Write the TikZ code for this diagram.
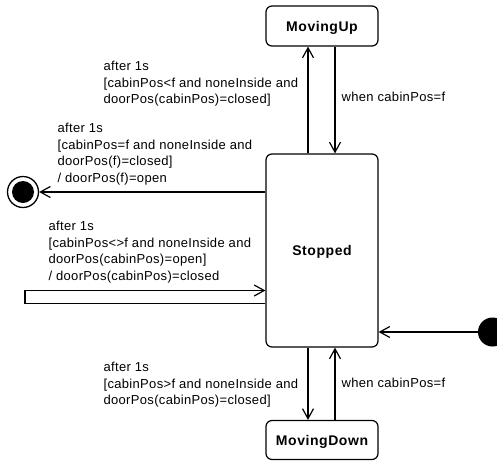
\documentclass[tikz,border=0pt]{standalone}
\usepackage{fontspec}
\setmainfont{Liberation Sans}
\newfontfamily\lblfont[LetterSpace=2.5]{Liberation Sans}
\newfontfamily\statefont[LetterSpace=4]{Liberation Sans}
\usetikzlibrary{arrows.meta}
\begin{document}
\begin{tikzpicture}[x=1pt,y=-1pt,
  line width=1.2pt,
  arr/.style={-{Straight Barb[length=10pt,width=11pt,line width=1.2pt]}},
  state/.style={draw,rounded corners=6pt,inner sep=0pt,text depth=0pt,font=\statefont\fontsize{14}{16}\selectfont\bfseries},
  trig/.style={inner sep=0pt,align=left,anchor=north west,font=\lblfont\fontsize{13}{16.7}\selectfont},
  cond/.style={inner sep=0pt,anchor=west,font=\lblfont\fontsize{13}{16.7}\selectfont}]
\useasboundingbox (0,0) rectangle (497,460);
% states
\node[state,minimum width=112pt,minimum height=40pt] (up) at (322,26) {MovingUp};
\node[state,minimum width=112pt,minimum height=193pt] (stop) at (322,250.5) {Stopped};
\node[state,minimum width=112pt,minimum height=39pt] (down) at (322,440) {MovingDown};
% pseudostates
\fill (492.5,332) circle (14.5pt) coordinate (init);
\node[circle,draw,line width=1.3pt,minimum size=31pt,inner sep=0pt] (fin) at (23,192) {};
\fill (fin.center) circle (11pt);
% helper columns and rows
\coordinate (lx) at (308,0);
\coordinate (rx) at (335,0);
\coordinate (initrow) at (0,332);
\coordinate (finrow) at (0,192);
\coordinate (looptop) at (25,290.5);
\coordinate (loopbot) at (25,303.5);
% transitions
\draw[arr] (stop.north -| lx) -- (up.south -| lx);
\draw[arr] (up.south -| rx) -- (stop.north -| rx);
\draw[arr] (stop.south -| lx) -- (down.north -| lx);
\draw[arr] (down.north -| rx) -- (stop.south -| rx);
\draw[arr] (478,332) -- (stop.east |- initrow);
\draw[arr] (stop.west |- finrow) -- (fin.east);
\draw[arr] (stop.west |- loopbot) -- (loopbot) -- (looptop) -- (stop.west |- looptop);
% labels
\node[trig] (t1) at (103,60.5) {after 1s\\{}[cabinPos<f and noneInside and\\doorPos(cabinPos)=closed]};
\node[trig] (t2) at (57,122.5) {after 1s\\{}[cabinPos=f and noneInside and\\doorPos(f)=closed]\\/ doorPos(f)=open};
\node[trig] (t3) at (48,220.5) {after 1s\\{}[cabinPos<>f and noneInside and\\doorPos(cabinPos)=open]\\/ doorPos(cabinPos)=closed};
\node[trig] (t4) at (103,361.5) {after 1s\\{}[cabinPos>f and noneInside and\\doorPos(cabinPos)=closed]};
\node[cond] (w1) at (341,97) {when cabinPos=f};
\node[cond] (w2) at (341,383) {when cabinPos=f};
\end{tikzpicture}
\end{document}
